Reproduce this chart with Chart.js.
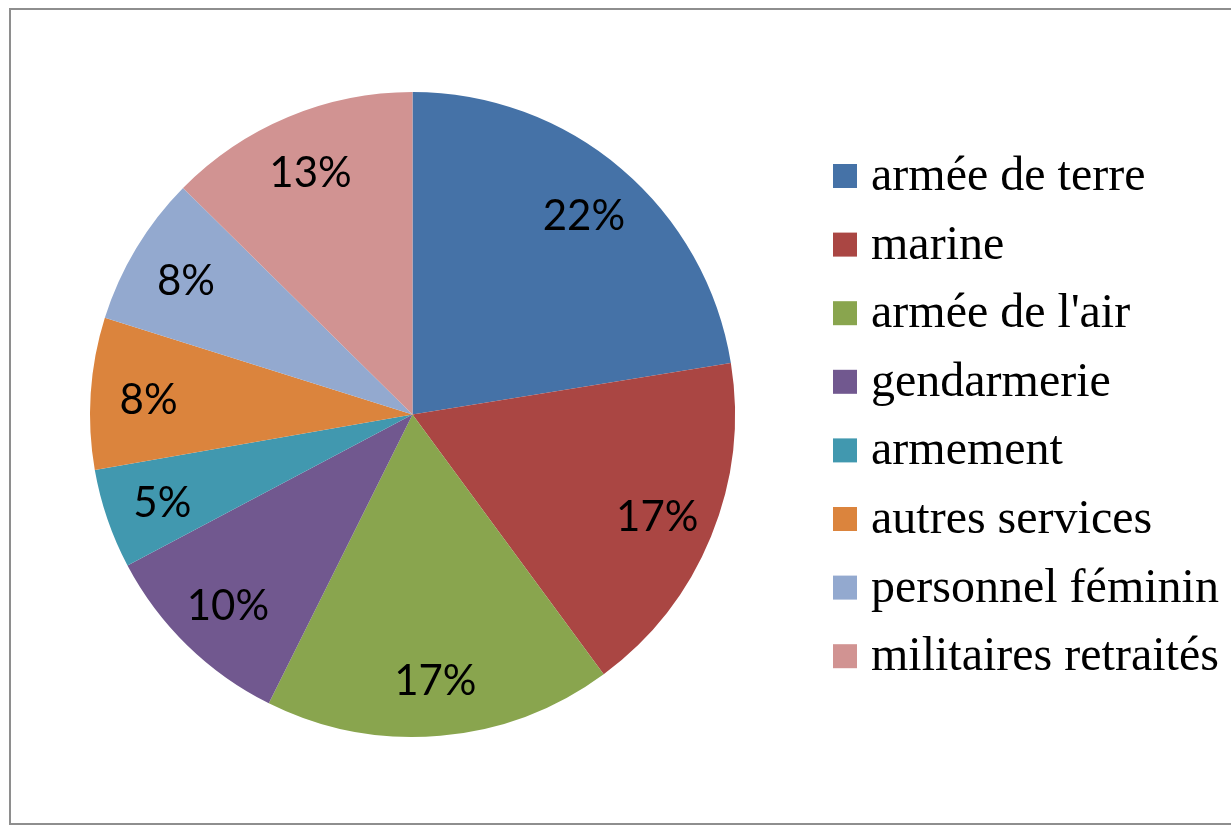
<!DOCTYPE html>
<html>
<head>
<meta charset="utf-8">
<script src="https://cdn.jsdelivr.net/npm/chart.js@4"></script>
<style>
  body { margin: 0; background: #fff; overflow: hidden; }
  #frame { position: absolute; left: 9px; top: 8px; width: 1240px; height: 813px; border: 2px solid #8e8e8e; border-right: none; }
  #wrap { position: absolute; left: 0; top: 0; width: 1231px; height: 832px; }
</style>
</head>
<body>
<div id="frame"></div>
<div id="wrap"><canvas id="pieChart"></canvas></div>
<script>
// categories and shares (percent)
const categories = ["armée de terre", "marine", "armée de l'air", "gendarmerie", "armement", "autres services", "personnel féminin", "militaires retraités"];
const shares = [22.45, 17.45, 17.45, 9.9, 5.0, 7.6, 7.55, 12.6];
const sliceColors = ["#4572A7", "#AA4643", "#89A54E", "#71588F", "#4198AF", "#DB843D", "#93A9CF", "#D19392"];

// percent labels inside the slices
const sliceLabels = {
  id: "sliceLabels",
  afterDatasetsDraw(chart) {
    const ctx = chart.ctx;
    const data = chart.data.datasets[0].data;
    const total = data.reduce((a, b) => a + b, 0);
    ctx.save();
    ctx.font = "42px Lato";
    ctx.fillStyle = "#000";
    ctx.textAlign = "center";
    ctx.textBaseline = "middle";
    chart.getDatasetMeta(0).data.forEach((arc, i) => {
      const mid = (arc.startAngle + arc.endAngle) / 2;
      const r = arc.outerRadius * 0.82;
      const x = arc.x + Math.cos(mid) * r;
      const y = arc.y + Math.sin(mid) * r;
      ctx.fillText(Math.round(data[i] / total * 100) + "%", x, y + 3);
    });
    ctx.restore();
  }
};

// legend on the right, Excel style
const sideLegend = {
  id: "sideLegend",
  afterDraw(chart) {
    const ctx = chart.ctx;
    const labels = chart.data.labels;
    const colors = chart.data.datasets[0].backgroundColor;
    ctx.save();
    ctx.font = "48px 'Liberation Serif'";
    ctx.textBaseline = "alphabetic";
    ctx.textAlign = "left";
    labels.forEach((lab, i) => {
      const cy = 176 + i * 68.6;
      ctx.fillStyle = colors[i];
      ctx.fillRect(833, cy - 12, 24, 24);
      ctx.fillStyle = "#000";
      ctx.fillText(lab, 871, cy + 14);
    });
    ctx.restore();
  }
};

const ctx = document.getElementById("pieChart").getContext("2d");
new Chart(ctx, {
  type: "pie",
  data: {
    labels: categories,
    datasets: [{
      data: shares,
      backgroundColor: sliceColors,
      borderWidth: 0,
      offset: 0,
      hoverOffset: 0
    }]
  },
  options: {
    responsive: true,
    maintainAspectRatio: false,
    animation: false,
    layout: { padding: { left: 90, right: 496, top: 92, bottom: 95 } },
    plugins: {
      legend: { display: false },
      tooltip: { enabled: false }
    }
  },
  plugins: [sliceLabels, sideLegend]
});
</script>
</body>
</html>
